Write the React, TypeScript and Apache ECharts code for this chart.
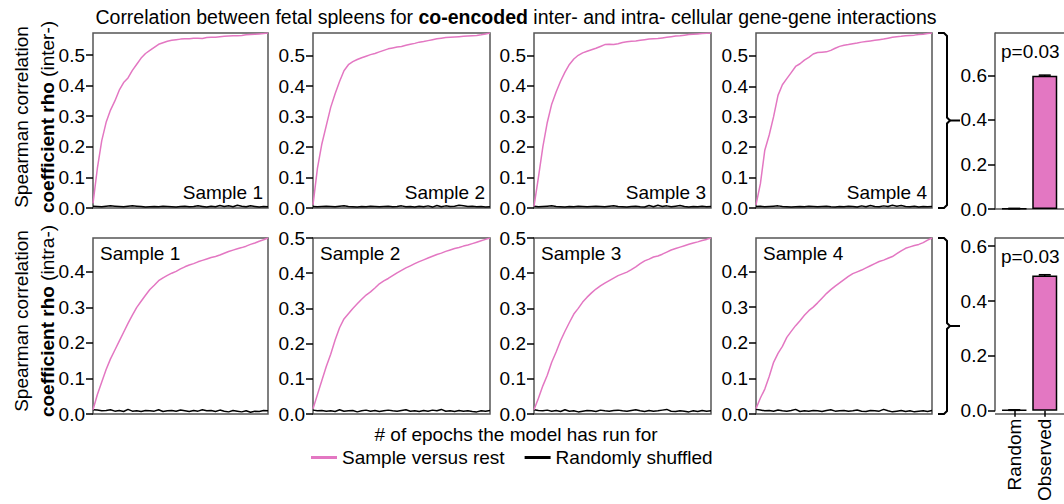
import React, { useEffect, useRef } from 'react';
import * as echarts from 'echarts';

const FONT = '"Liberation Sans", Arial, Helvetica, sans-serif';
const PINK = '#e377c2';
const FRAME = '#555555';

// ---------- data ----------
const EPOCHS = [0,1,2,3,4,5,6,7,8,9,10,11,12,13,14,15,16,17,18,19,20,21,22,23,24,25,26,27,28,29,30,31,32,33,34,35,36,37,38,39,40];

const INTER_S1 = [0.015,0.13,0.22,0.28,0.32,0.35,0.385,0.41,0.425,0.45,0.47,0.49,0.505,0.515,0.525,0.535,0.54,0.545,0.548,0.55,0.552,0.553,0.553,0.555,0.555,0.554,0.557,0.558,0.558,0.56,0.561,0.562,0.563,0.563,0.564,0.566,0.567,0.568,0.569,0.57,0.572];
const INTER_S2 = [0.01,0.13,0.21,0.27,0.33,0.375,0.415,0.45,0.47,0.48,0.487,0.493,0.498,0.503,0.507,0.512,0.517,0.522,0.525,0.528,0.53,0.534,0.537,0.54,0.544,0.546,0.549,0.552,0.555,0.557,0.559,0.56,0.561,0.562,0.563,0.564,0.565,0.566,0.568,0.571,0.574];
const INTER_S3 = [0.005,0.1,0.2,0.28,0.34,0.38,0.415,0.445,0.47,0.488,0.5,0.508,0.513,0.518,0.523,0.529,0.535,0.536,0.535,0.538,0.542,0.544,0.546,0.547,0.549,0.551,0.553,0.554,0.555,0.557,0.559,0.561,0.563,0.564,0.566,0.568,0.569,0.57,0.571,0.572,0.573];
const INTER_S4 = [0.01,0.08,0.19,0.24,0.3,0.37,0.405,0.425,0.445,0.465,0.474,0.486,0.495,0.506,0.511,0.512,0.513,0.518,0.525,0.531,0.535,0.537,0.54,0.542,0.545,0.547,0.549,0.551,0.553,0.555,0.558,0.561,0.563,0.564,0.566,0.567,0.568,0.57,0.571,0.573,0.575];

const INTER_RND1 = [0.006,0.005,0.004,0.006,0.007,0.006,0.005,0.004,0.006,0.007,0.006,0.005,0.003,0.004,0.005,0.004,0.006,0.005,0.004,0.003,0.005,0.006,0.004,0.005,0.007,0.005,0.003,0.006,0.004,0.008,0.005,0.007,0.004,0.009,0.006,0.004,0.007,0.005,0.003,0.005,0.004];
const INTER_RND2 = [0.005,0.004,0.005,0.006,0.005,0.004,0.006,0.007,0.005,0.004,0.003,0.005,0.004,0.006,0.005,0.004,0.005,0.006,0.004,0.005,0.007,0.004,0.005,0.003,0.006,0.004,0.007,0.003,0.008,0.004,0.007,0.005,0.006,0.009,0.007,0.005,0.006,0.004,0.005,0.003,0.004];
const INTER_RND3 = [0.006,0.004,0.005,0.006,0.007,0.005,0.004,0.003,0.005,0.004,0.006,0.005,0.004,0.005,0.006,0.005,0.004,0.006,0.007,0.005,0.004,0.003,0.005,0.006,0.004,0.003,0.008,0.004,0.009,0.005,0.007,0.004,0.006,0.008,0.005,0.003,0.005,0.004,0.006,0.004,0.005];
const INTER_RND4 = [0.005,0.006,0.004,0.005,0.006,0.007,0.005,0.004,0.003,0.004,0.005,0.004,0.006,0.005,0.004,0.005,0.006,0.004,0.003,0.005,0.004,0.006,0.005,0.003,0.007,0.004,0.008,0.005,0.004,0.007,0.005,0.009,0.006,0.008,0.005,0.004,0.006,0.003,0.005,0.004,0.005];

const INTRA_S1 = [0.012,0.055,0.09,0.125,0.155,0.18,0.205,0.23,0.255,0.278,0.3,0.317,0.334,0.35,0.362,0.375,0.383,0.39,0.396,0.401,0.408,0.414,0.419,0.423,0.428,0.432,0.436,0.44,0.443,0.447,0.452,0.457,0.461,0.465,0.468,0.472,0.477,0.481,0.486,0.49,0.495];
const INTRA_S2 = [0.015,0.055,0.095,0.135,0.17,0.21,0.245,0.27,0.285,0.3,0.313,0.326,0.338,0.347,0.358,0.37,0.378,0.385,0.393,0.401,0.408,0.415,0.421,0.427,0.433,0.438,0.443,0.448,0.453,0.457,0.462,0.466,0.47,0.473,0.477,0.48,0.484,0.488,0.492,0.496,0.5];
const INTRA_S3 = [0.012,0.045,0.08,0.11,0.147,0.176,0.208,0.235,0.26,0.284,0.3,0.318,0.332,0.344,0.355,0.364,0.372,0.379,0.386,0.393,0.398,0.403,0.41,0.418,0.427,0.435,0.44,0.446,0.449,0.454,0.46,0.466,0.47,0.474,0.478,0.482,0.486,0.489,0.493,0.496,0.5];
const INTRA_S4 = [0.015,0.045,0.07,0.105,0.145,0.17,0.19,0.215,0.232,0.248,0.262,0.277,0.29,0.3,0.312,0.325,0.338,0.349,0.359,0.368,0.377,0.386,0.394,0.399,0.404,0.41,0.416,0.422,0.428,0.432,0.437,0.442,0.45,0.458,0.465,0.469,0.473,0.476,0.481,0.488,0.494];

const INTRA_RND1 = [0.012,0.011,0.009,0.01,0.012,0.008,0.01,0.007,0.013,0.008,0.009,0.007,0.01,0.009,0.008,0.012,0.007,0.009,0.01,0.008,0.011,0.009,0.007,0.01,0.008,0.012,0.009,0.01,0.007,0.011,0.008,0.006,0.01,0.008,0.006,0.009,0.005,0.008,0.007,0.01,0.009];
const INTRA_RND2 = [0.011,0.009,0.01,0.008,0.009,0.007,0.012,0.008,0.009,0.01,0.006,0.009,0.011,0.008,0.01,0.007,0.009,0.011,0.009,0.008,0.01,0.012,0.008,0.009,0.007,0.01,0.008,0.011,0.009,0.013,0.008,0.009,0.007,0.01,0.008,0.009,0.007,0.006,0.009,0.008,0.01];
const INTRA_RND3 = [0.012,0.01,0.009,0.011,0.008,0.01,0.007,0.012,0.008,0.009,0.006,0.008,0.01,0.009,0.007,0.011,0.009,0.008,0.01,0.011,0.009,0.008,0.01,0.012,0.009,0.007,0.01,0.008,0.009,0.011,0.013,0.008,0.007,0.009,0.008,0.006,0.009,0.007,0.01,0.008,0.009];
const INTRA_RND4 = [0.013,0.011,0.009,0.01,0.008,0.011,0.009,0.008,0.01,0.013,0.007,0.009,0.008,0.01,0.009,0.007,0.01,0.012,0.008,0.009,0.01,0.008,0.009,0.011,0.008,0.007,0.01,0.009,0.008,0.013,0.009,0.006,0.008,0.01,0.007,0.009,0.006,0.008,0.009,0.007,0.01];

const BAR_CATS = ['Random', 'Observed'];
const INTER_BAR = [0.002, 0.598];
const INTER_ERR = [0.001, 0.003];
const INTRA_BAR = [0.002, 0.493];
const INTRA_ERR = [0.001, 0.003];
const INTER_BAR_MAX = 0.79;
const INTRA_BAR_MAX = 0.63;

const TICKS_05 = [0, 0.1, 0.2, 0.3, 0.4, 0.5];
const TICKS_04 = [0, 0.1, 0.2, 0.3, 0.4];
const BAR_TICKS = [0, 0.2, 0.4, 0.6];
const SAMPLE_NAMES = ['Sample 1', 'Sample 2', 'Sample 3', 'Sample 4'];
const P_TEXT = 'p=0.03';

// ---------- layout ----------
const COLS = [
  { left: 93, width: 175 },
  { left: 313, width: 177 },
  { left: 534, width: 177 },
  { left: 756, width: 176 },
];
const ROWS = [
  { top: 33, height: 175 },
  { top: 238, height: 176 },
];
const BAR_GRID = { left: 999, width: 61 };
const BAR_ROWS = [
  { top: 33, height: 176 },
  { top: 238, height: 176 },
];

const PANELS = [
  { row: 0, col: 0, obs: INTER_S1, rnd: INTER_RND1, ticks: TICKS_05 },
  { row: 0, col: 1, obs: INTER_S2, rnd: INTER_RND2, ticks: TICKS_05 },
  { row: 0, col: 2, obs: INTER_S3, rnd: INTER_RND3, ticks: TICKS_05 },
  { row: 0, col: 3, obs: INTER_S4, rnd: INTER_RND4, ticks: TICKS_05 },
  { row: 1, col: 0, obs: INTRA_S1, rnd: INTRA_RND1, ticks: TICKS_04 },
  { row: 1, col: 1, obs: INTRA_S2, rnd: INTRA_RND2, ticks: TICKS_05 },
  { row: 1, col: 2, obs: INTRA_S3, rnd: INTRA_RND3, ticks: TICKS_05 },
  { row: 1, col: 3, obs: INTRA_S4, rnd: INTRA_RND4, ticks: TICKS_04 },
];

const BARS = [
  { row: 0, vals: INTER_BAR, err: INTER_ERR, max: INTER_BAR_MAX },
  { row: 1, vals: INTRA_BAR, err: INTRA_ERR, max: INTRA_BAR_MAX },
];

const labelStyle = { fontSize: 19, fontFamily: FONT, color: '#000' };

function buildOption() {
  const grid: any[] = [];
  const xAxis: any[] = [];
  const yAxis: any[] = [];
  const series: any[] = [];
  const graphic: any[] = [];

  PANELS.forEach((p, i) => {
    const c = COLS[p.col];
    const r = ROWS[p.row];
    grid.push({
      left: c.left, top: r.top, width: c.width, height: r.height,
      show: true, borderColor: FRAME, borderWidth: 1.5, backgroundColor: 'transparent',
    });
    xAxis.push({ gridIndex: i, type: 'category', data: EPOCHS, boundaryGap: false, show: false });
    yAxis.push({
      gridIndex: i, type: 'value', min: 0, max: Math.max(...p.obs),
      axisLine: { show: false }, splitLine: { show: false },
      axisTick: { show: true, length: 7, lineStyle: { color: '#000', width: 1.5 }, customValues: p.ticks },
      axisLabel: { ...labelStyle, margin: 8, customValues: p.ticks, formatter: (v: number) => v.toFixed(1) },
    });
    series.push({
      name: 'Randomly shuffled', type: 'line', xAxisIndex: i, yAxisIndex: i, data: p.rnd,
      symbol: 'none', lineStyle: { color: '#000', width: 1.5 }, itemStyle: { color: '#000' },
    });
    series.push({
      name: 'Sample versus rest', type: 'line', xAxisIndex: i, yAxisIndex: i, data: p.obs,
      symbol: 'none', lineStyle: { color: PINK, width: 1.5 }, itemStyle: { color: PINK },
    });
    const name = SAMPLE_NAMES[p.col];
    if (p.row === 0) {
      graphic.push({ type: 'text', x: c.left + c.width - 5, y: r.top + r.height - 16,
        style: { text: name, fontSize: 19, fontFamily: FONT, fill: '#000', align: 'right', verticalAlign: 'middle' } });
    } else {
      graphic.push({ type: 'text', x: c.left + 7, y: r.top + 15,
        style: { text: name, fontSize: 19, fontFamily: FONT, fill: '#000', align: 'left', verticalAlign: 'middle' } });
    }
  });

  BARS.forEach((b, k) => {
    const idx = PANELS.length + k;
    const r = BAR_ROWS[b.row];
    grid.push({ left: BAR_GRID.left, top: r.top, width: BAR_GRID.width, height: r.height });
    xAxis.push({
      gridIndex: idx, type: 'category', data: BAR_CATS,
      axisLine: { show: false },
      axisTick: { show: b.row === 1, alignWithLabel: true, length: 6, lineStyle: { color: '#000', width: 1.5 } },
      axisLabel: { ...labelStyle, show: b.row === 1, rotate: 90, margin: 8 },
    });
    yAxis.push({
      gridIndex: idx, type: 'value', min: 0, max: b.max, offset: 4,
      axisLine: { show: true, lineStyle: { color: FRAME, width: 1.5 } }, splitLine: { show: false },
      axisTick: { show: true, length: 7, lineStyle: { color: '#000', width: 1.5 }, customValues: BAR_TICKS },
      axisLabel: { ...labelStyle, margin: 8, customValues: BAR_TICKS, formatter: (v: number) => v.toFixed(1) },
    });
    series.push({
      type: 'bar', xAxisIndex: idx, yAxisIndex: idx, data: b.vals, barWidth: 25,
      itemStyle: { color: PINK, borderColor: '#000', borderWidth: 1.5 },
    });
    series.push({
      type: 'custom', xAxisIndex: idx, yAxisIndex: idx,
      data: b.vals.map((v, j) => [j, v - b.err[j], v + b.err[j]]),
      renderItem: (params: any, api: any) => {
        const lo = api.coord([api.value(0), api.value(1)]);
        const hi = api.coord([api.value(0), api.value(2)]);
        const st = { stroke: '#000', lineWidth: 1.5 };
        return {
          type: 'group', children: [
            { type: 'line', shape: { x1: hi[0], y1: hi[1], x2: lo[0], y2: lo[1] }, style: st },
            { type: 'line', shape: { x1: hi[0] - 6, y1: hi[1], x2: hi[0] + 6, y2: hi[1] }, style: st },
            { type: 'line', shape: { x1: lo[0] - 6, y1: lo[1], x2: lo[0] + 6, y2: lo[1] }, style: st },
          ],
        };
      },
    });
    // frame lines of the bar panel (top & bottom)
    const fx0 = BAR_GRID.left - 4;
    graphic.push({ type: 'line', shape: { x1: fx0, y1: r.top, x2: 1070, y2: r.top }, style: { stroke: FRAME, lineWidth: 1.5 } });
    graphic.push({ type: 'line', shape: { x1: fx0, y1: r.top + r.height, x2: 1070, y2: r.top + r.height }, style: { stroke: FRAME, lineWidth: 1.5 } });
    graphic.push({ type: 'text', x: BAR_GRID.left + 2, y: r.top + 18,
      style: { text: P_TEXT, fontSize: 19, fontFamily: FONT, fill: '#000', align: 'left', verticalAlign: 'middle' } });
  });

  // brackets
  ROWS.forEach((r) => {
    const bx = 947;
    const y0 = r.top, y1 = r.top + r.height, ym = r.top + r.height / 2;
    graphic.push({
      type: 'polyline',
      shape: { points: [[938, y0], [944, y0], [bx, y0 + 3], [bx, ym - 3], [bx + 3, ym], [bx, ym + 3], [bx, y1 - 3], [944, y1], [938, y1]] },
      style: { stroke: '#000', lineWidth: 2, fill: null },
    });
    graphic.push({ type: 'line', shape: { x1: bx + 3, y1: ym, x2: 960, y2: ym }, style: { stroke: '#000', lineWidth: 2 } });
  });

  // title
  graphic.push({
    type: 'text', x: 516, y: 17,
    style: {
      text: 'Correlation between fetal spleens for {b|co-encoded} inter- and intra- cellular gene-gene interactions',
      fontSize: 19.5, fontFamily: FONT, fill: '#000', align: 'center', verticalAlign: 'middle',
      rich: { b: { fontSize: 19.5, fontFamily: FONT, fontWeight: 'bold', fill: '#000' } },
    },
  });

  // y axis titles
  const yTitles = [
    { y: 117, tag: '(inter-)' },
    { y: 321, tag: '(intra-)' },
  ];
  yTitles.forEach((t) => {
    graphic.push({
      type: 'text', x: 21, y: t.y, rotation: Math.PI / 2,
      style: { text: 'Spearman correlation', fontSize: 19, fontFamily: FONT, fill: '#000', align: 'center', verticalAlign: 'middle' },
    });
    graphic.push({
      type: 'text', x: 47, y: t.y, rotation: Math.PI / 2,
      style: {
        text: '{b|coefficient rho} ' + t.tag, fontSize: 19, fontFamily: FONT, fill: '#000', align: 'center', verticalAlign: 'middle',
        rich: { b: { fontSize: 19, fontFamily: FONT, fontWeight: 'bold', fill: '#000' } },
      },
    });
  });

  // x axis title
  graphic.push({
    type: 'text', x: 516, y: 434,
    style: { text: '# of epochs the model has run for', fontSize: 19, fontFamily: FONT, fill: '#000', align: 'center', verticalAlign: 'middle' },
  });

  return {
    animation: false,
    backgroundColor: '#fff',
    grid, xAxis, yAxis, series, graphic,
    legend: {
      data: ['Sample versus rest', 'Randomly shuffled'],
      left: 306, top: 443, icon: 'rect', itemWidth: 26, itemHeight: 3, itemGap: 20,
      textStyle: { fontSize: 19, fontFamily: FONT, color: '#000' },
      selectedMode: false,
    },
  };
}

export default function App() {
  const ref = useRef<HTMLDivElement>(null);
  useEffect(() => {
    if (!ref.current) return;
    const chart = echarts.init(ref.current, null, { renderer: 'svg' });
    chart.setOption(buildOption() as any);
    return () => chart.dispose();
  }, []);
  return <div ref={ref} style={{ position: 'fixed', left: 0, top: 0, width: 1064, height: 504, background: '#fff' }} />;
}
